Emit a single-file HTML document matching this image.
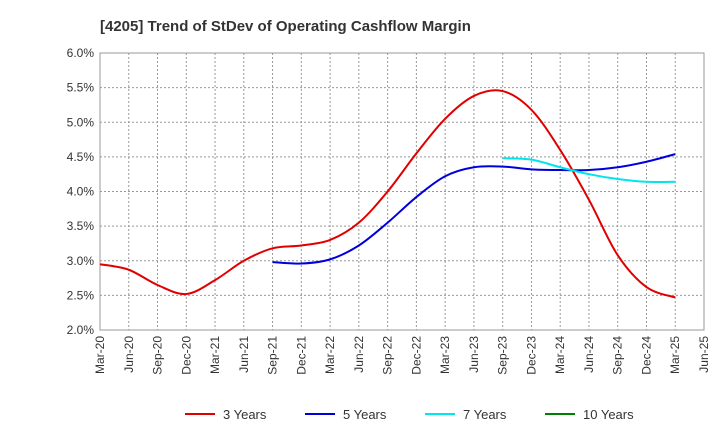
<!DOCTYPE html>
<html><head><meta charset="utf-8"><style>
body{margin:0;background:#fff;font-family:"Liberation Sans",Arial,sans-serif;}
</style></head><body>
<svg id="chart" width="720" height="440" xmlns="http://www.w3.org/2000/svg">
<text x="100" y="31" font-size="15" font-weight="bold" fill="#333">[4205]  Trend of StDev of Operating Cashflow Margin</text>
<g id="grid"></g><g id="axes"></g><g id="series"></g><g id="legend"></g>
</svg>
<script>
const xLabels=["Mar-20","Jun-20","Sep-20","Dec-20","Mar-21","Jun-21","Sep-21","Dec-21","Mar-22","Jun-22","Sep-22","Dec-22","Mar-23","Jun-23","Sep-23","Dec-23","Mar-24","Jun-24","Sep-24","Dec-24","Mar-25","Jun-25"];
const yTicks=[2.0,2.5,3.0,3.5,4.0,4.5,5.0,5.5,6.0];
const s3=[2.95,2.87,2.65,2.52,2.72,3.0,3.18,3.22,3.3,3.55,4.0,4.55,5.05,5.38,5.45,5.18,4.6,3.88,3.08,2.62,2.47];
const s5=[null,null,null,null,null,null,2.98,2.96,3.02,3.22,3.55,3.92,4.22,4.35,4.36,4.32,4.31,4.31,4.35,4.43,4.54];
const s7=[null,null,null,null,null,null,null,null,null,null,null,null,null,null,4.48,4.46,4.35,4.25,4.18,4.14,4.14];
const s10=[];
const seriesNames=["3 Years","5 Years","7 Years","10 Years"];
const colors=["#e00000","#0000dd","#00e5ee","#008000"];
const X0=100,X1=704,Y0=330,Y1=53;
const xs=i=>X0+i*(X1-X0)/(xLabels.length-1);
const ys=v=>Y0-(v-2)/(6-2)*(Y0-Y1);
const NS="http://www.w3.org/2000/svg";
function mk(t,a,p){const e=document.createElementNS(NS,t);for(const k in a)e.setAttribute(k,a[k]);p.appendChild(e);return e;}
const grid=document.getElementById('grid'),axes=document.getElementById('axes');
mk('rect',{x:X0,y:Y1,width:X1-X0,height:Y0-Y1,fill:'#fff',stroke:'#999'},grid);
yTicks.forEach(v=>{
 const l=mk('line',{x1:X0,x2:X1,y1:ys(v),y2:ys(v),stroke:'#999','stroke-dasharray':'2,2'},grid);
 
 
 const t=mk('text',{x:X0-6,y:ys(v)+4,'text-anchor':'end','font-size':12,fill:'#333'},axes);
 t.textContent=v.toFixed(1)+'%';
 
 
});
xLabels.forEach((lab,i)=>{
 const l=mk('line',{x1:xs(i),x2:xs(i),y1:Y1,y2:Y0,stroke:'#999','stroke-dasharray':'2,2'},grid);
 
 
 const t=mk('text',{x:0,y:0,'text-anchor':'end','font-size':12,fill:'#333',transform:`translate(${xs(i)+4},${Y0+6}) rotate(-90)`},axes);
 t.textContent=lab;
 
 
});
function pathFor(data){
 const pts=[];data.forEach((v,i)=>{if(v!=null)pts.push([xs(i),ys(v)]);});
 if(pts.length<2)return '';
 let d=`M${pts[0][0]},${pts[0][1]}`;
 for(let i=0;i<pts.length-1;i++){
  const p0=pts[i-1]||pts[i],p1=pts[i],p2=pts[i+1],p3=pts[i+2]||p2;
  const c1=[p1[0]+(p2[0]-p0[0])/6,p1[1]+(p2[1]-p0[1])/6];
  const c2=[p2[0]-(p3[0]-p1[0])/6,p2[1]-(p3[1]-p1[1])/6];
  d+=` C${c1[0]},${c1[1]} ${c2[0]},${c2[1]} ${p2[0]},${p2[1]}`;
 }
 return d;
}
const ser=document.getElementById('series');
[s3,s5,s7,s10].forEach((s,k)=>{
 const d=pathFor(s);if(!d)return;
 const p=mk('path',{d:d,fill:'none',stroke:colors[k],'stroke-width':2},ser);
 
 
});
const leg=document.getElementById('legend');
seriesNames.forEach((n,k)=>{
 const x=185+k*120;
 const l=mk('line',{x1:x,x2:x+30,y1:414,y2:414,stroke:colors[k],'stroke-width':2},leg);
 
 
 const t=mk('text',{x:x+38,y:419,'font-size':13,fill:'#333'},leg);
 t.textContent=n;
 
 
});
</script>
</body></html>
